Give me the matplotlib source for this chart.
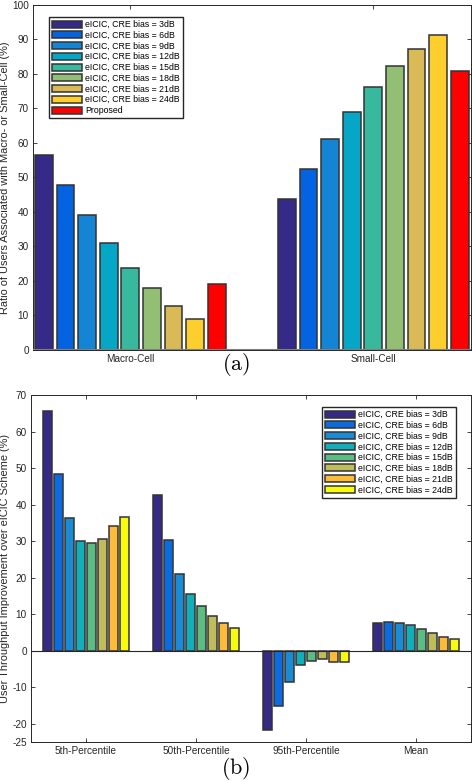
import numpy as np
import matplotlib.pyplot as plt

plt.rcParams['font.family'] = ['Liberation Sans', 'DejaVu Sans']
plt.rcParams['mathtext.fontset'] = 'cm'
plt.rcParams['axes.unicode_minus'] = False

# (a) association ratio
cells = ['Macro-Cell', 'Small-Cell']
labels_a = ['eICIC, CRE bias = 3dB', 'eICIC, CRE bias = 6dB', 'eICIC, CRE bias = 9dB',
            'eICIC, CRE bias = 12dB', 'eICIC, CRE bias = 15dB', 'eICIC, CRE bias = 18dB',
            'eICIC, CRE bias = 21dB', 'eICIC, CRE bias = 24dB', 'Proposed']
ratio_macro = [56.5, 47.7, 39.0, 31.0, 23.8, 17.8, 12.8, 9.0, 19.2]
ratio_small = [43.7, 52.4, 61.1, 69.1, 76.1, 82.3, 87.2, 91.2, 80.9]
colors_a = ['#352A87', '#0363E1', '#1485D4', '#06A7C6', '#38B99E',
            '#92BF73', '#D9BA56', '#FCCE2E', '#FF0000']

# (b) throughput improvement
metrics = ['5th-Percentile', '50th-Percentile', '95th-Percentile', 'Mean']
labels_b = labels_a[:8]
gain = [
    [65.6, 48.3, 36.4, 30.1, 29.6, 30.5, 34.1, 36.5],
    [42.6, 30.3, 21.1, 15.6, 12.2, 9.4, 7.7, 6.2],
    [-21.8, -15.0, -8.6, -3.9, -2.8, -2.4, -3.1, -3.2],
    [7.6, 7.8, 7.5, 7.1, 6.0, 4.9, 3.8, 3.2],
]
colors_b = ['#352A87', '#0D6BE0', '#1A8BD5', '#12AEB9', '#5CBD84',
            '#BEBC5C', '#FDBB3A', '#F9FB0E']

fig = plt.figure(figsize=(4.72, 7.81), dpi=100)
tick_fs = 7.2
leg_kw = dict(fontsize=6.3, frameon=True, fancybox=False, edgecolor='#262626',
              framealpha=1, handlelength=3.4, handleheight=0.85,
              handletextpad=0.35, labelspacing=0.2, borderpad=0.35,
              borderaxespad=0)


def style_axes(ax):
    ax.tick_params(direction='in', length=3, width=0.6, top=True, right=True,
                   labelsize=tick_fs, colors='#262626', pad=3)
    for s in ax.spines.values():
        s.set_linewidth(0.7)
        s.set_color('#262626')


# ---- top panel ----
ax1 = fig.add_axes([0.070, 0.552, 0.927, 0.4417])
n = len(labels_a)
step = 0.8 / n
x = np.arange(1, len(cells) + 1)
vals = np.array([ratio_macro, ratio_small])
for i in range(n):
    off = (i - (n - 1) / 2) * step
    ax1.bar(x + off, vals[:, i], width=step * 0.82, color=colors_a[i],
            edgecolor='#333333', linewidth=1.1, label=labels_a[i], zorder=2)
ax1.axhline(0, color='#808080', linewidth=1.5, zorder=3)
ax1.set_xlim(0.6, 2.4)
ax1.set_ylim(0, 100)
ax1.set_yticks(np.arange(0, 101, 10))
ax1.set_xticks(x)
ax1.set_xticklabels(cells)
ax1.set_ylabel('Ratio of Users Associated with Macro- or Small-Cell (%)',
               fontsize=7.9, color='#262626')
ax1.yaxis.set_label_coords(-0.053, 0.5)
style_axes(ax1)
ax1.legend(loc='upper left', bbox_to_anchor=(0.037, 0.965), **leg_kw)
fig.text(0.5, 0.533, r'$\mathrm{(a)}$', ha='center', va='center', fontsize=16)

# ---- bottom panel ----
ax2 = fig.add_axes([0.0657, 0.0499, 0.932, 0.4443])
m = len(labels_b)
step_b = 0.8 / m
xb = np.arange(1, len(metrics) + 1)
vals_b = np.array(gain)
for i in range(m):
    off = (i - (m - 1) / 2) * step_b
    ax2.bar(xb + off, vals_b[:, i], width=step_b * 0.85, color=colors_b[i],
            edgecolor='#333333', linewidth=1.1, label=labels_b[i], zorder=2)
ax2.axhline(0, color='#262626', linewidth=0.8, zorder=3)
ax2.set_xlim(0.5, 4.5)
ax2.set_ylim(-25, 70)
ax2.set_yticks([-25, -20, -10, 0, 10, 20, 30, 40, 50, 60, 70])
ax2.set_xticks(xb)
ax2.set_xticklabels(metrics)
ax2.set_ylabel('User Throughput Improvement over eICIC Scheme (%)',
               fontsize=7.9, color='#262626')
ax2.yaxis.set_label_coords(-0.048, 0.5)
style_axes(ax2)
ax2.legend(loc='upper right', bbox_to_anchor=(0.965, 0.965), **leg_kw)
fig.text(0.5, 0.016, r'$\mathrm{(b)}$', ha='center', va='center', fontsize=16)

fig.savefig('out.png', dpi=100)
